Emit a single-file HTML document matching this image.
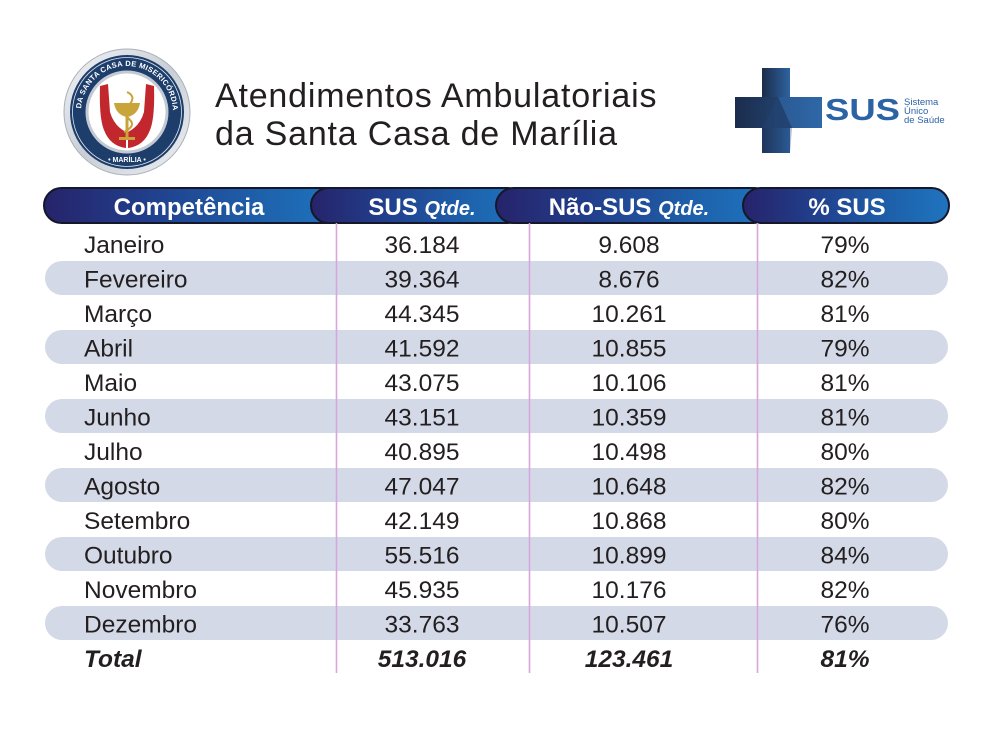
<!DOCTYPE html>
<html><head><meta charset="utf-8"><style>
html,body{margin:0;padding:0;background:#fff;}
svg{display:block;}
svg text, svg tspan, svg textPath{font-family:"Liberation Sans", Arial, sans-serif;}
</style></head><body>
<svg width="1000" height="733" viewBox="0 0 1000 733" xmlns="http://www.w3.org/2000/svg">
<defs>
<linearGradient id="pill" x1="0" y1="0" x2="1" y2="0">
<stop offset="0" stop-color="#26236a"/>
<stop offset="0.35" stop-color="#213f8c"/>
<stop offset="0.75" stop-color="#1e63ad"/>
<stop offset="1" stop-color="#1f74bf"/>
</linearGradient>
<linearGradient id="silver" x1="0" y1="0" x2="1" y2="1">
<stop offset="0" stop-color="#f4f5f7"/>
<stop offset="0.5" stop-color="#c9ced6"/>
<stop offset="1" stop-color="#eef0f3"/>
</linearGradient>
<linearGradient id="crossv" x1="0" y1="0" x2="1" y2="0">
<stop offset="0" stop-color="#1b2c4a"/>
<stop offset="1" stop-color="#2e63a0"/>
</linearGradient>
<linearGradient id="crossh" x1="0" y1="0" x2="1" y2="0">
<stop offset="0" stop-color="#1a2a44"/>
<stop offset="0.5" stop-color="#2a5a93"/>
<stop offset="1" stop-color="#2f68a8"/>
</linearGradient>
<path id="ringTop" d="M 81 112 A 46 46 0 0 1 173 112"/>
</defs>

<!-- Santa Casa logo -->
<circle cx="127" cy="112" r="63" fill="url(#silver)" stroke="#a9b0ba" stroke-width="1"/>
<circle cx="127" cy="112" r="57" fill="#1d3d6b"/>
<circle cx="127" cy="112" r="54.5" fill="none" stroke="#dfe6ef" stroke-width="0.8"/>
<circle cx="127" cy="112" r="40" fill="#ffffff" stroke="#c3c9d2" stroke-width="3"/>
<text font-size="7.5" font-weight="bold" fill="#ffffff" letter-spacing="0.3"><textPath href="#ringTop" startOffset="50%" text-anchor="middle">IRMANDADE DA SANTA CASA DE MISERICÓRDIA DE MARÍLIA</textPath></text>
<text x="127" y="162" font-size="7" font-weight="bold" fill="#ffffff" text-anchor="middle">• MARÍLIA •</text>
<!-- hands -->
<path d="M100 86 L108 84 L110 112 Q114 126 126 132 L126 148 Q110 146 104 130 Q99 118 100 86 Z" fill="#c1272d"/>
<path d="M154 86 L146 84 L144 112 Q140 126 128 132 L128 148 Q144 146 150 130 Q155 118 154 86 Z" fill="#c1272d"/>
<!-- chalice -->
<path d="M114 103 L140 103 Q138 115 127 117 Q116 115 114 103 Z" fill="#c9a43a"/>
<rect x="125.5" y="116" width="3" height="22" fill="#c9a43a"/>
<rect x="119" y="137" width="16" height="3" fill="#c9a43a"/>
<path d="M127 92 Q136 96 130 104 Q120 110 130 120 Q136 126 124 132" fill="none" stroke="#c9a43a" stroke-width="2"/>

<!-- Title -->
<text x="215" y="107" font-size="34" fill="#231f20" letter-spacing="0.8">Atendimentos Ambulatoriais</text>
<text x="215" y="145" font-size="34" fill="#231f20" letter-spacing="0.8">da Santa Casa de Marília</text>

<!-- SUS logo -->
<rect x="762" y="68" width="28" height="85" fill="url(#crossv)"/>
<rect x="735" y="97" width="87" height="31" fill="url(#crossh)"/>
<path d="M735 97 L778 97 L792 128 L735 128 Z" fill="#1c2f52" opacity="0.6"/>
<path d="M778 97 L792 128 L790 153 L762 153 L762 128 Z" fill="#24497a" opacity="0.35"/>
<text x="825" y="120" font-size="31" font-weight="bold" fill="#2b63a5" textLength="75" lengthAdjust="spacingAndGlyphs">SUS</text>
<text x="904" y="105" font-size="9.5" fill="#2b63a5">Sistema</text>
<text x="904" y="114" font-size="9.5" fill="#2b63a5">Único</text>
<text x="904" y="123" font-size="9.5" fill="#2b63a5">de Saúde</text>

<!-- Header pills -->
<rect x="44" y="188" width="300" height="35" rx="17.5" fill="url(#pill)" stroke="#15172a" stroke-width="2"/>
<rect x="311" y="188" width="214" height="35" rx="17.5" fill="url(#pill)" stroke="#15172a" stroke-width="2"/>
<rect x="496" y="188" width="275" height="35" rx="17.5" fill="url(#pill)" stroke="#15172a" stroke-width="2"/>
<rect x="743" y="188" width="206" height="35" rx="17.5" fill="url(#pill)" stroke="#15172a" stroke-width="2"/>
<g fill="#ffffff" font-weight="bold" text-anchor="middle">
<text x="189" y="215" font-size="24">Competência</text>
<text x="422" y="215" font-size="24">SUS <tspan font-size="20" font-style="italic">Qtde.</tspan></text>
<text x="629" y="215" font-size="24">Não-SUS <tspan font-size="20" font-style="italic">Qtde.</tspan></text>
<text x="847" y="215" font-size="24">% SUS</text>
</g>

<!-- Stripes -->
<g fill="#d3d9e6">
<rect x="45" y="261" width="903" height="34" rx="17"/>
<rect x="45" y="330" width="903" height="34" rx="17"/>
<rect x="45" y="399" width="903" height="34" rx="17"/>
<rect x="45" y="468" width="903" height="34" rx="17"/>
<rect x="45" y="537" width="903" height="34" rx="17"/>
<rect x="45" y="606" width="903" height="34" rx="17"/>
</g>

<!-- Vertical lines -->
<g stroke="#d8a6dc" stroke-width="1.6">
<line x1="336.5" y1="223" x2="336.5" y2="673"/>
<line x1="529.5" y1="223" x2="529.5" y2="673"/>
<line x1="757.5" y1="223" x2="757.5" y2="673"/>
</g>

<!-- Data -->
<g font-size="24.5" fill="#231f20">
<g>
<text x="84" y="253">Janeiro</text>
<text x="84" y="287.5">Fevereiro</text>
<text x="84" y="322">Março</text>
<text x="84" y="356.5">Abril</text>
<text x="84" y="391">Maio</text>
<text x="84" y="425.5">Junho</text>
<text x="84" y="460">Julho</text>
<text x="84" y="494.5">Agosto</text>
<text x="84" y="529">Setembro</text>
<text x="84" y="563.5">Outubro</text>
<text x="84" y="598">Novembro</text>
<text x="84" y="632.5">Dezembro</text>
</g>
<g text-anchor="middle">
<text x="422" y="253">36.184</text>
<text x="422" y="287.5">39.364</text>
<text x="422" y="322">44.345</text>
<text x="422" y="356.5">41.592</text>
<text x="422" y="391">43.075</text>
<text x="422" y="425.5">43.151</text>
<text x="422" y="460">40.895</text>
<text x="422" y="494.5">47.047</text>
<text x="422" y="529">42.149</text>
<text x="422" y="563.5">55.516</text>
<text x="422" y="598">45.935</text>
<text x="422" y="632.5">33.763</text>

<text x="629" y="253">9.608</text>
<text x="629" y="287.5">8.676</text>
<text x="629" y="322">10.261</text>
<text x="629" y="356.5">10.855</text>
<text x="629" y="391">10.106</text>
<text x="629" y="425.5">10.359</text>
<text x="629" y="460">10.498</text>
<text x="629" y="494.5">10.648</text>
<text x="629" y="529">10.868</text>
<text x="629" y="563.5">10.899</text>
<text x="629" y="598">10.176</text>
<text x="629" y="632.5">10.507</text>

<text x="845" y="253">79%</text>
<text x="845" y="287.5">82%</text>
<text x="845" y="322">81%</text>
<text x="845" y="356.5">79%</text>
<text x="845" y="391">81%</text>
<text x="845" y="425.5">81%</text>
<text x="845" y="460">80%</text>
<text x="845" y="494.5">82%</text>
<text x="845" y="529">80%</text>
<text x="845" y="563.5">84%</text>
<text x="845" y="598">82%</text>
<text x="845" y="632.5">76%</text>
</g>
<g font-weight="bold" font-style="italic">
<text x="84" y="667">Total</text>
<text x="422" y="667" text-anchor="middle">513.016</text>
<text x="629" y="667" text-anchor="middle">123.461</text>
<text x="845" y="667" text-anchor="middle">81%</text>
</g>
</g>
</svg>
</body></html>
